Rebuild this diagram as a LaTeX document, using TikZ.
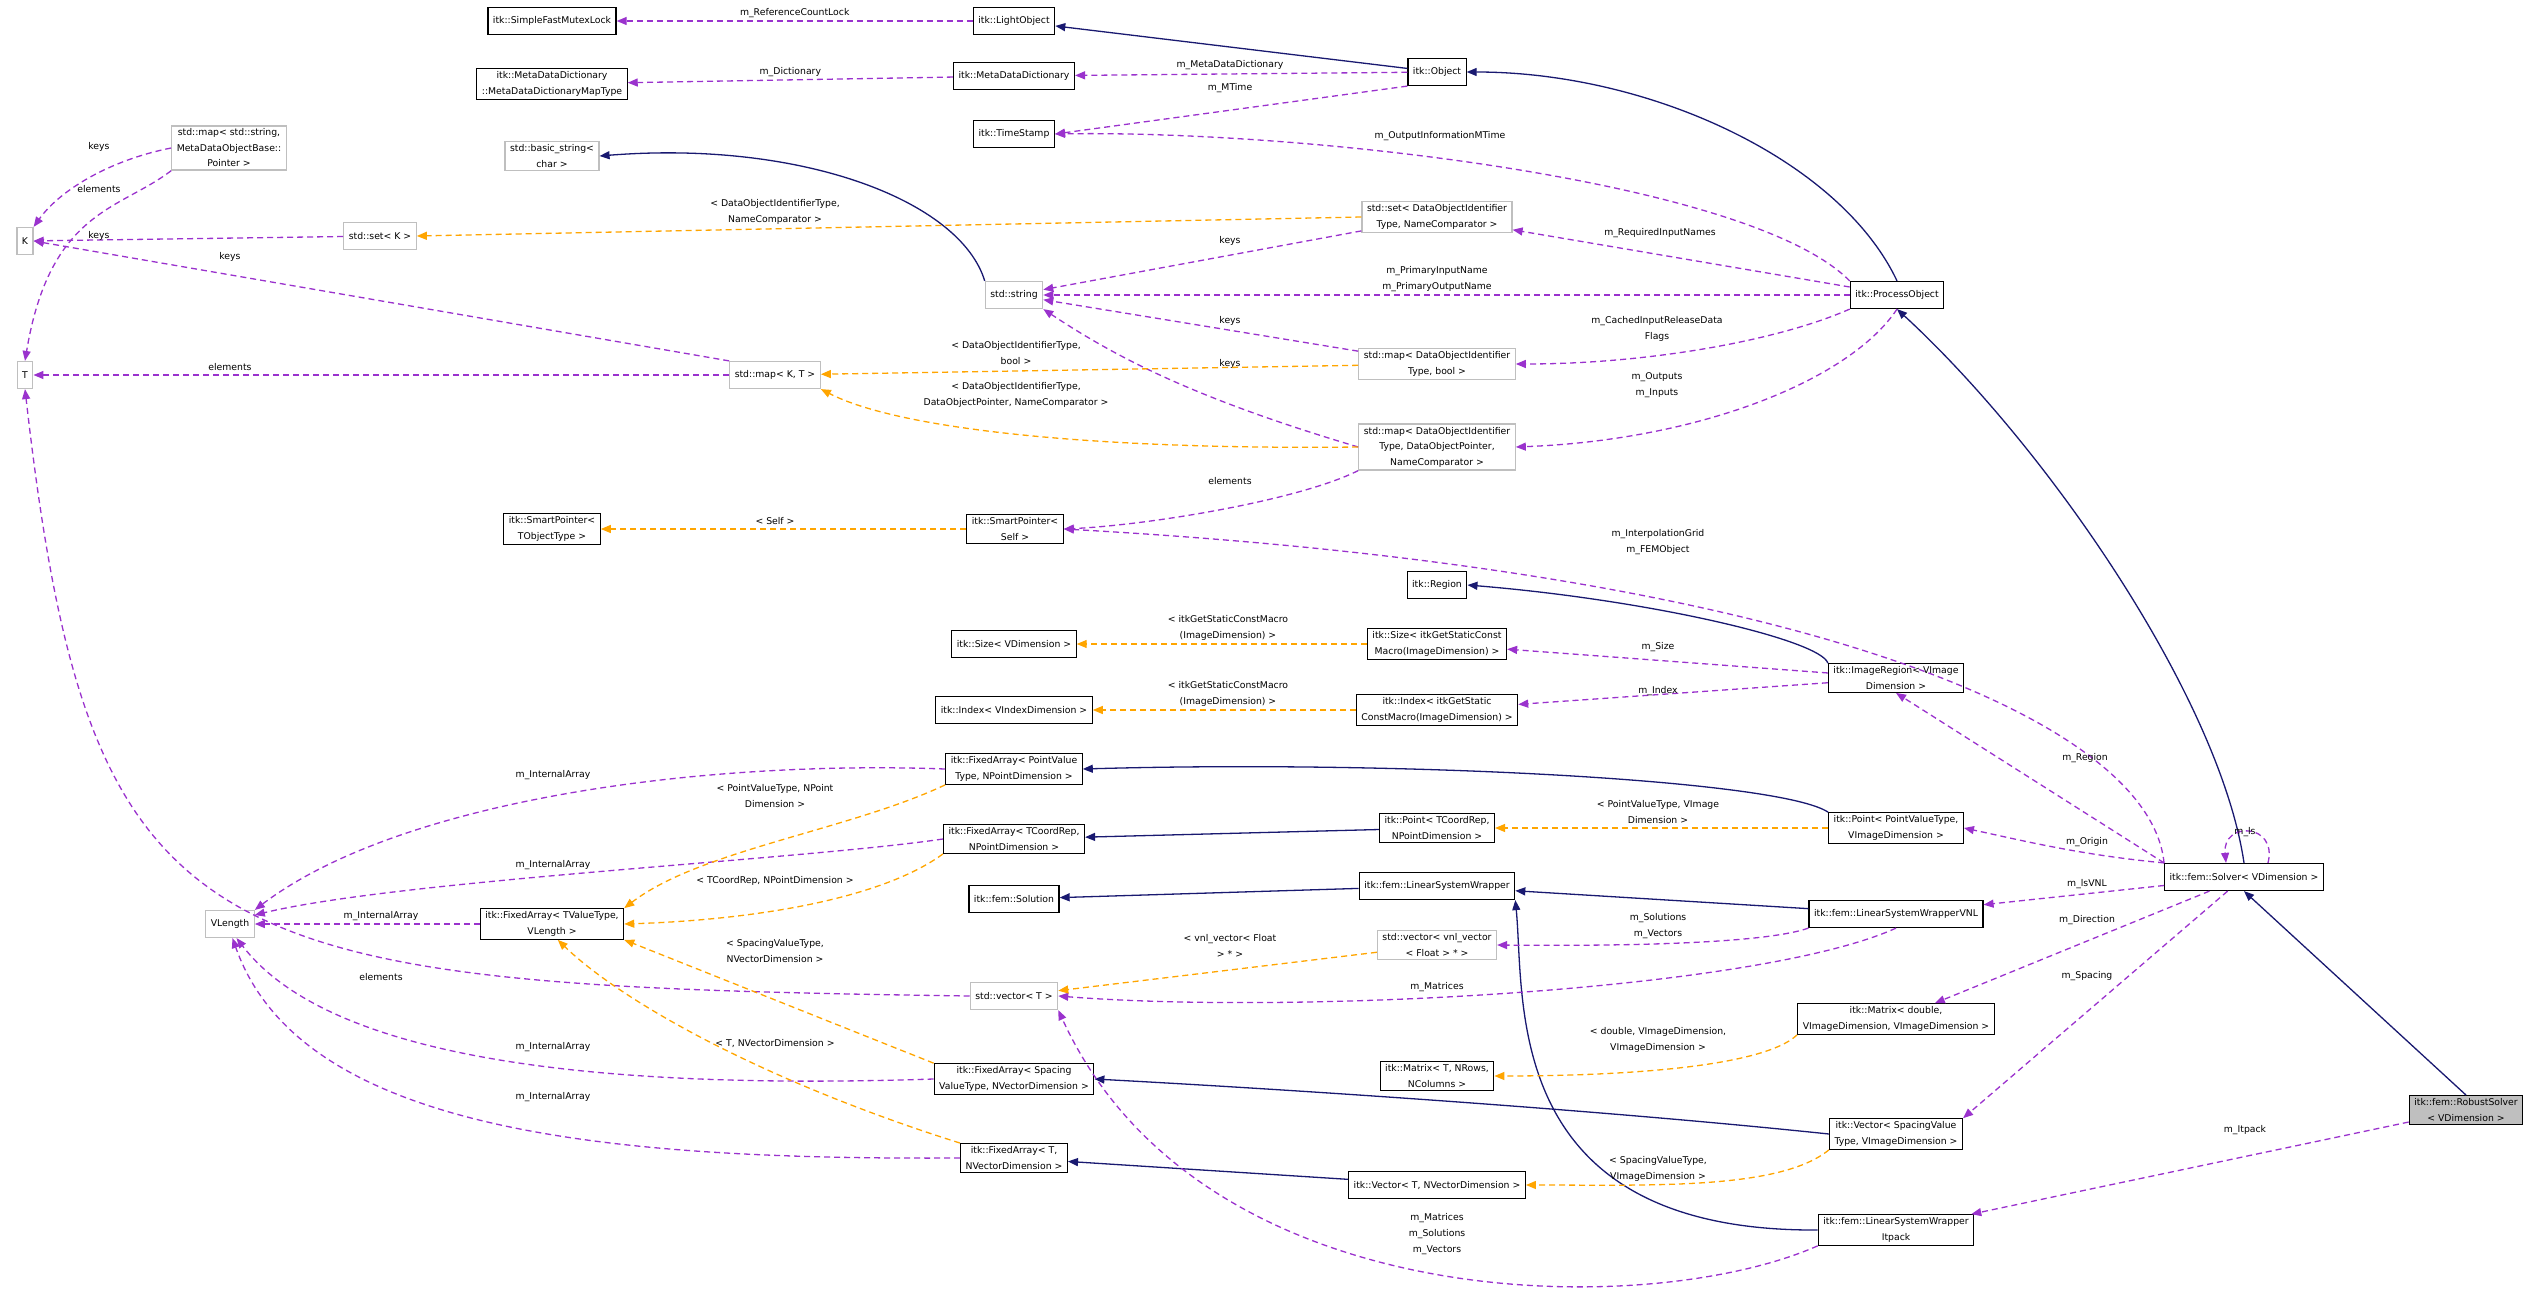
\documentclass[tikz,border=0pt]{standalone}
\usepackage{fontspec}
\setmainfont{DejaVu Sans}
\usetikzlibrary{arrows.meta,calc}

\definecolor{inhcol}{HTML}{191970}
\definecolor{usecol}{HTML}{9A32CD}
\definecolor{tplcol}{HTML}{FFA500}

\tikzset{
  cls/.style={draw=black, line width=1.2pt, fill=white, align=center, inner xsep=5pt,
    inner ysep=3pt, minimum height=27pt, font=\fontsize{9.3}{15.5}\selectfont},
  ext/.style={cls, draw=black!25},
  focus/.style={cls, fill=black!25},
  tip/.style={-{Triangle[length=10pt,width=8pt]}},
  inh/.style={tip, draw=inhcol, line width=1.3pt},
  use/.style={tip, draw=usecol, line width=1.3pt, dash pattern=on 6pt off 4pt},
  tpl/.style={tip, draw=tplcol, line width=1.3pt, dash pattern=on 6pt off 4pt},
  lbl/.style={align=center, inner sep=0pt, font=\fontsize{9.3}{16}\selectfont},
}

\begin{document}
\begin{tikzpicture}[x=1pt, y=-1pt]
  \useasboundingbox (0,0) rectangle (2544,1303);

  % classes
  \node[cls] (sfml) at (552,21) {itk::SimpleFastMutexLock};
  \node[cls] (lo) at (1014,21) {itk::LightObject};
  \node[cls] (mapt) at (552,84) {itk::MetaDataDictionary\\::MetaDataDictionaryMapType};
  \node[cls] (mdd) at (1014,76) {itk::MetaDataDictionary};
  \node[cls] (obj) at (1437,72) {itk::Object};
  \node[cls] (ts) at (1014,134) {itk::TimeStamp};
  \node[ext] (maps) at (229,148) {std::map\textless{} std::string,\\MetaDataObjectBase::\\Pointer \textgreater{}};
  \node[ext] (bs) at (552,156) {std::basic\_string\textless{}\\char \textgreater{}};
  \node[ext] (k) at (25,241) {K};
  \node[ext] (setk) at (380,236) {std::set\textless{} K \textgreater{}};
  \node[ext] (setdoi) at (1437,217) {std::set\textless{} DataObjectIdentifier\\Type, NameComparator \textgreater{}};
  \node[ext] (str) at (1014,295) {std::string};
  \node[cls] (po) at (1897,295) {itk::ProcessObject};
  \node[ext] (t) at (25,375) {T};
  \node[ext] (mapkt) at (775,375) {std::map\textless{} K, T \textgreater{}};
  \node[ext] (mapb) at (1437,364) {std::map\textless{} DataObjectIdentifier\\Type, bool \textgreater{}};
  \node[ext] (mapdop) at (1437,447) {std::map\textless{} DataObjectIdentifier\\Type, DataObjectPointer,\\NameComparator \textgreater{}};
  \node[cls] (spt) at (552,529) {itk::SmartPointer\textless{}\\TObjectType \textgreater{}};
  \node[cls] (sps) at (1015,529) {itk::SmartPointer\textless{}\\Self \textgreater{}};
  \node[cls] (reg) at (1437,585) {itk::Region};
  \node[cls] (sizev) at (1014,644) {itk::Size\textless{} VDimension \textgreater{}};
  \node[cls] (sizei) at (1437,644) {itk::Size\textless{} itkGetStaticConst\\Macro(ImageDimension) \textgreater{}};
  \node[cls] (ir) at (1896,678) {itk::ImageRegion\textless{} VImage\\Dimension \textgreater{}};
  \node[cls] (idxv) at (1014,710) {itk::Index\textless{} VIndexDimension \textgreater{}};
  \node[cls] (idxi) at (1437,710) {itk::Index\textless{} itkGetStatic\\ConstMacro(ImageDimension) \textgreater{}};
  \node[cls] (fapv) at (1014,769) {itk::FixedArray\textless{} PointValue\\Type, NPointDimension \textgreater{}};
  \node[cls] (fatc) at (1014,839) {itk::FixedArray\textless{} TCoordRep,\\NPointDimension \textgreater{}};
  \node[cls] (ptc) at (1437,828) {itk::Point\textless{} TCoordRep,\\NPointDimension \textgreater{}};
  \node[cls] (ptv) at (1896,828) {itk::Point\textless{} PointValueType,\\VImageDimension \textgreater{}};
  \node[cls] (sol) at (1014,899) {itk::fem::Solution};
  \node[cls] (lsw) at (1437,886) {itk::fem::LinearSystemWrapper};
  \node[cls] (vnl) at (1896,914) {itk::fem::LinearSystemWrapperVNL};
  \node[cls] (slv) at (2244,877) {itk::fem::Solver\textless{} VDimension \textgreater{}};
  \node[ext] (vlen) at (230,924) {VLength};
  \node[cls] (fav) at (552,924) {itk::FixedArray\textless{} TValueType,\\VLength \textgreater{}};
  \node[ext] (vv) at (1437,945) {std::vector\textless{} vnl\_vector\\\textless{} Float \textgreater{} * \textgreater{}};
  \node[ext] (vt) at (1014,996) {std::vector\textless{} T \textgreater{}};
  \node[cls] (md) at (1896,1019) {itk::Matrix\textless{} double,\\VImageDimension, VImageDimension \textgreater{}};
  \node[cls] (mt) at (1437,1076) {itk::Matrix\textless{} T, NRows,\\NColumns \textgreater{}};
  \node[cls] (fas) at (1014,1079) {itk::FixedArray\textless{} Spacing\\ValueType, NVectorDimension \textgreater{}};
  \node[focus] (rs) at (2466,1110) {itk::fem::RobustSolver\\\textless{} VDimension \textgreater{}};
  \node[cls] (vsv) at (1896,1134) {itk::Vector\textless{} SpacingValue\\Type, VImageDimension \textgreater{}};
  \node[cls] (fat) at (1014,1158) {itk::FixedArray\textless{} T,\\NVectorDimension \textgreater{}};
  \node[cls] (vec) at (1437,1185) {itk::Vector\textless{} T, NVectorDimension \textgreater{}};
  \node[cls] (itp) at (1896,1230) {itk::fem::LinearSystemWrapper\\Itpack};

  % inheritance
  \draw[inh] (obj) -- (lo);
  \draw[inh] (po.north) .. controls (1840,160) and (1650,72) .. (obj.east);
  \draw[inh] (str.north west) .. controls (960,200) and (800,140) .. (bs.east);
  \draw[inh] (slv.north) .. controls (2220,700) and (2050,450) .. (po.south);
  \draw[inh] (rs.north) -- (slv.south);
  \draw[inh] (ir.north west) .. controls (1820,640) and (1650,600) .. (reg.east);
  \draw[inh] (ptv.north west) .. controls (1780,780) and (1400,760) .. (fapv.east);
  \draw[inh] (ptc) -- (fatc);
  \draw[inh] (lsw) -- (sol);
  \draw[inh] (vnl) -- (lsw);
  \draw[inh] (itp.west) .. controls (1500,1232) and (1525,1000) .. (lsw.south east);
  \draw[inh] (vsv.west) .. controls (1600,1110) and (1300,1090) .. (fas.east);
  \draw[inh] (vec) -- (fat);

  % usage
  \draw[use] (lo) -- (sfml) node[lbl, pos=.5, above=3pt] (l1) {m\_ReferenceCountLock};
  \draw[use] (mdd) -- (mapt) node[lbl, pos=.5, above=3pt] (l2) {m\_Dictionary};
  \draw[use] (obj) -- (mdd);
  \node[lbl] (l3) at (1230,65) {m\_MetaDataDictionary};
  \draw[use] (obj.south west) -- (ts.east);
  \node[lbl] (l4) at (1230,88) {m\_MTime};
  \draw[use] (po.north west) .. controls (1750,180) and (1300,130) .. (ts.east);
  \node[lbl] (l5) at (1440,136) {m\_OutputInformationMTime};
  \draw[use] (po) -- (setdoi);
  \node[lbl] (l6) at (1660,233) {m\_RequiredInputNames};
  \draw[use] (po) -- (str);
  \node[lbl] (l7) at (1437,279) {m\_PrimaryInputName\\m\_PrimaryOutputName};
  \draw[use] (po.south west) .. controls (1780,340) and (1650,364) .. (mapb.east);
  \node[lbl] (l8) at (1657,329) {m\_CachedInputReleaseData\\Flags};
  \draw[use] (po.south) .. controls (1850,380) and (1700,440) .. (mapdop.east);
  \node[lbl] (l9) at (1657,385) {m\_Outputs\\m\_Inputs};
  \draw[use] (setdoi) -- (str);
  \node[lbl] (l10) at (1230,241) {keys};
  \draw[use] (mapb) -- (str);
  \node[lbl] (l11) at (1230,321) {keys};
  \draw[use] (mapdop.west) .. controls (1200,400) and (1120,360) .. (str.south east);
  \node[lbl] (l12) at (1230,364) {keys};
  \draw[use] (mapdop.south west) .. controls (1300,500) and (1150,525) .. (sps.east);
  \node[lbl] (l13) at (1230,481) {elements};
  \draw[use] (maps.west) .. controls (110,160) and (60,190) .. (k.north east);
  \node[lbl] (l14) at (99,147) {keys};
  \draw[use] (maps.south west) .. controls (120,210) and (50,210) .. (t.north);
  \node[lbl] (l15) at (99,189) {elements};
  \draw[use] (setk) -- (k);
  \node[lbl] (l16) at (99,236) {keys};
  \draw[use] (mapkt.north west) -- (k.east);
  \node[lbl] (l17) at (230,257) {keys};
  \draw[use] (mapkt) -- (t);
  \node[lbl] (l18) at (230,367) {elements};
  \draw[use] (slv.north west) .. controls (2150,720) and (1800,570) .. (sps.east);
  \node[lbl] (l19) at (1658,542) {m\_InterpolationGrid\\m\_FEMObject};
  \draw[use] (ir) -- (sizei);
  \node[lbl] (l20) at (1658,647) {m\_Size};
  \draw[use] (ir) -- (idxi);
  \node[lbl] (l21) at (1658,691) {m\_Index};
  \draw[use] (slv.north west) -- (ir.south);
  \node[lbl] (l22) at (2085,758) {m\_Region};
  \draw[use] (slv.north west) .. controls (2080,855) and (2020,840) .. (ptv.east);
  \node[lbl] (l23) at (2087,842) {m\_Origin};
  \draw[use] ($(slv.north)+(24,0)$) .. controls ($(slv.north)+(34,-40)$) and ($(slv.north)+(-22,-42)$) .. ($(slv.north)+(-18,0)$);
  \node[lbl] (l24) at (2245,832) {m\_ls};
  \draw[use] (slv) -- (vnl);
  \node[lbl] (l25) at (2087,884) {m\_lsVNL};
  \draw[use] (slv) -- (md);
  \node[lbl] (l26) at (2087,920) {m\_Direction};
  \draw[use] (slv) -- (vsv.north east);
  \node[lbl] (l27) at (2087,976) {m\_Spacing};
  \draw[use] (rs) -- (itp);
  \node[lbl] (l28) at (2245,1130) {m\_Itpack};
  \draw[use] (vnl.south west) .. controls (1760,945) and (1600,946) .. (vv.east);
  \node[lbl] (l29) at (1658,926) {m\_Solutions\\m\_Vectors};
  \draw[use] (vnl.south) .. controls (1760,990) and (1300,1015) .. (vt.east);
  \node[lbl] (l30) at (1437,987) {m\_Matrices};
  \draw[use] (itp.south west) .. controls (1650,1320) and (1200,1320) .. (vt.south east);
  \node[lbl] (l31) at (1437,1234) {m\_Matrices\\m\_Solutions\\m\_Vectors};
  \draw[use] (vt.west) .. controls (200,985) and (90,960) .. (t.south);
  \node[lbl] (l32) at (381,977) {elements};
  \draw[use] (fapv.west) .. controls (700,760) and (400,800) .. (vlen.north east);
  \node[lbl] (l33) at (553,775) {m\_InternalArray};
  \draw[use] (fatc.west) .. controls (800,860) and (400,880) .. (vlen.20);
  \node[lbl] (l34) at (553,865) {m\_InternalArray};
  \draw[use] (fav) -- (vlen);
  \node[lbl] (l35) at (381,916) {m\_InternalArray};
  \draw[use] (fas.west) .. controls (600,1090) and (330,1060) .. (vlen.-65);
  \node[lbl] (l36) at (553,1047) {m\_InternalArray};
  \draw[use] (fat.west) .. controls (600,1160) and (300,1130) .. (vlen.-80);
  \node[lbl] (l37) at (553,1097) {m\_InternalArray};

  % templates
  \draw[tpl] (setdoi.west) -- (setk.east);
  \node[lbl] (l38) at (775,212) {\textless{} DataObjectIdentifierType,\\NameComparator \textgreater{}};
  \draw[tpl] (mapb) -- (mapkt);
  \node[lbl] (l39) at (1016,353) {\textless{} DataObjectIdentifierType,\\bool \textgreater{}};
  \draw[tpl] (mapdop.west) .. controls (1100,450) and (900,430) .. (mapkt.south east);
  \node[lbl] (l40) at (1016,395) {\textless{} DataObjectIdentifierType,\\DataObjectPointer, NameComparator \textgreater{}};
  \draw[tpl] (sps) -- (spt);
  \node[lbl] (l41) at (775,521) {\textless{} Self \textgreater{}};
  \draw[tpl] (sizei) -- (sizev);
  \node[lbl] (l42) at (1228,628) {\textless{} itkGetStaticConstMacro\\(ImageDimension) \textgreater{}};
  \draw[tpl] (idxi) -- (idxv);
  \node[lbl] (l43) at (1228,694) {\textless{} itkGetStaticConstMacro\\(ImageDimension) \textgreater{}};
  \draw[tpl] (fapv.south west) .. controls (850,830) and (700,850) .. (fav.north east);
  \node[lbl] (l44) at (775,796) {\textless{} PointValueType, NPoint\\Dimension \textgreater{}};
  \draw[tpl] (fatc.south west) .. controls (880,900) and (750,920) .. (fav.east);
  \node[lbl] (l45) at (775,881) {\textless{} TCoordRep, NPointDimension \textgreater{}};
  \draw[tpl] (fas.north west) -- (fav.south east);
  \node[lbl] (l46) at (775,951) {\textless{} SpacingValueType,\\NVectorDimension \textgreater{}};
  \draw[tpl] (fat.north west) .. controls (760,1080) and (620,1000) .. (fav.-70);
  \node[lbl] (l47) at (775,1043) {\textless{} T, NVectorDimension \textgreater{}};
  \draw[tpl] (ptv) -- (ptc);
  \node[lbl] (l48) at (1658,812) {\textless{} PointValueType, VImage\\Dimension \textgreater{}};
  \draw[tpl] (vv) -- (vt);
  \node[lbl] (l49) at (1230,946) {\textless{} vnl\_vector\textless{} Float\\\textgreater{} * \textgreater{}};
  \draw[tpl] (md.south west) .. controls (1760,1070) and (1600,1076) .. (mt.east);
  \node[lbl] (l50) at (1658,1040) {\textless{} double, VImageDimension,\\VImageDimension \textgreater{}};
  \draw[tpl] (vsv.south west) .. controls (1780,1190) and (1650,1185) .. (vec.east);
  \node[lbl] (l51) at (1658,1169) {\textless{} SpacingValueType,\\VImageDimension \textgreater{}};
\end{tikzpicture}
\end{document}
